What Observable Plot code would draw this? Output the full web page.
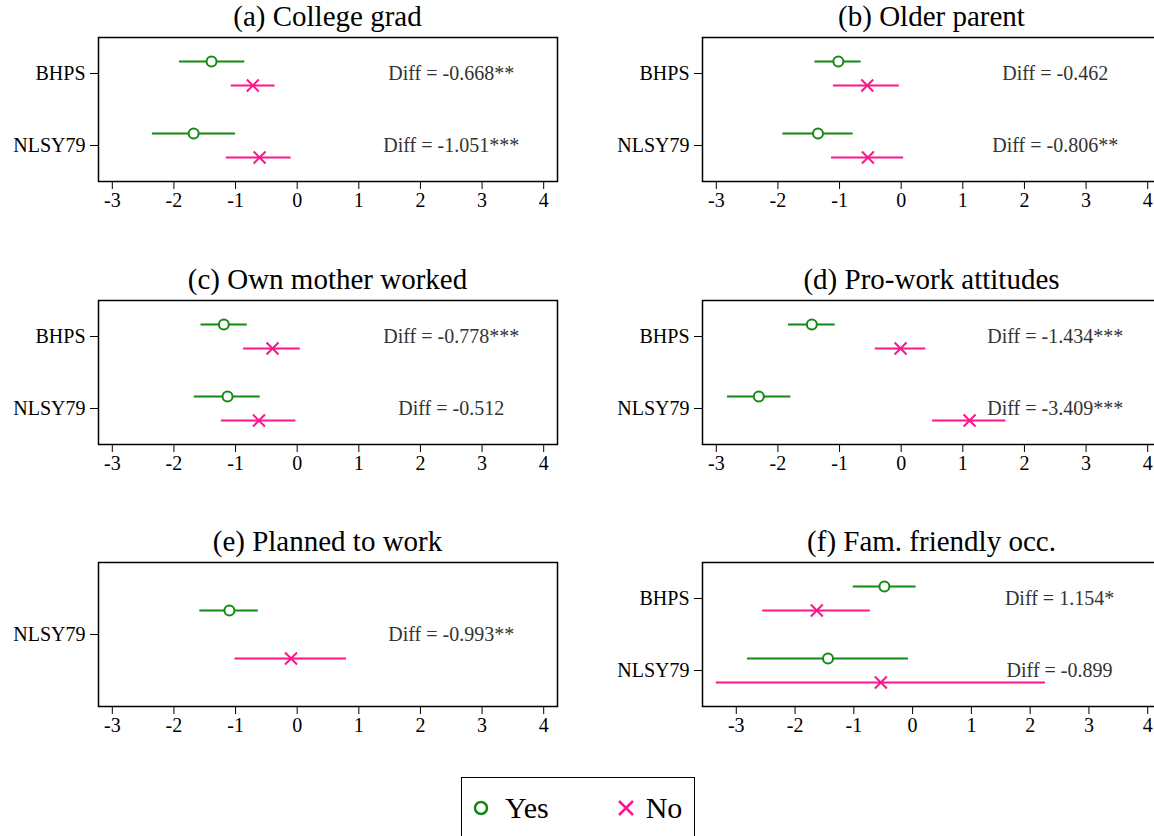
<!DOCTYPE html>
<html>
<head>
<meta charset="utf-8">
<script src="https://cdn.jsdelivr.net/npm/d3@7"></script>
<script src="https://cdn.jsdelivr.net/npm/@observablehq/plot@0.6"></script>
<style>
html, body { margin: 0; padding: 0; background: #fff; overflow: hidden; }
#chart { position: relative; width: 1154px; height: 836px; overflow: hidden;
  font-family: "Liberation Serif", "Times New Roman", serif; background: #fff; }
.panel { position: absolute; }
.panel, .panel g, .panel text { font-family: "Liberation Serif", "Times New Roman", serif !important; }
.title { position: absolute; text-align: center; font-size: 29px; line-height: 29px; color: #000; white-space: nowrap; }
#legend { position: absolute; box-sizing: border-box; border: 1.5px solid #000; background: #fff;
  display: flex; align-items: center; font-size: 30px; color: #000; }
#legend .item { display: flex; align-items: center; }
</style>
</head>
<body>
<div id="chart"></div>
<script>
// ---------------- data ----------------
const panelTitles = ["(a) College grad", "(b) Older parent", "(c) Own mother worked",
  "(d) Pro-work attitudes", "(e) Planned to work", "(f) Fam. friendly occ."];
const panelSamples = [["BHPS", "NLSY79"], ["BHPS", "NLSY79"], ["BHPS", "NLSY79"],
  ["BHPS", "NLSY79"], ["NLSY79"], ["BHPS", "NLSY79"]];
const yesEst = [[-1.39, -1.68], [-1.02, -1.35], [-1.19, -1.13], [-1.45, -2.31], [-1.10], [-0.48, -1.44]];
const yesLo  = [[-1.91, -2.35], [-1.40, -1.92], [-1.56, -1.67], [-1.83, -2.82], [-1.58], [-1.01, -2.81]];
const yesHi  = [[-0.85, -1.00], [-0.65, -0.78], [-0.81, -0.60], [-1.07, -1.79], [-0.63], [0.06, -0.07]];
const noEst  = [[-0.72, -0.61], [-0.55, -0.54], [-0.40, -0.62], [-0.01, 1.11], [-0.10], [-1.63, -0.54]];
const noLo   = [[-1.07, -1.15], [-1.10, -1.13], [-0.87, -1.23], [-0.42, 0.51], [-1.01], [-2.55, -3.34]];
const noHi   = [[-0.36, -0.10], [-0.03, 0.04], [0.05, -0.02], [0.40, 1.70], [0.80], [-0.72, 2.26]];
const diffLabels = [["Diff = -0.668**", "Diff = -1.051***"], ["Diff = -0.462", "Diff = -0.806**"],
  ["Diff = -0.778***", "Diff = -0.512"], ["Diff = -1.434***", "Diff = -3.409***"],
  ["Diff = -0.993**"], ["Diff = 1.154*", "Diff = -0.899"]];
const xTicks = [-3, -2, -1, 0, 1, 2, 3, 4];
const legendLabels = ["Yes", "No"];

// ---------------- style / layout ----------------
const GREEN = "#138a13";
const PINK = "#ff148c";
const FONT = "'Liberation Serif', 'Times New Roman', serif";
const FRAME_W = 459, FRAME_H = 144;
const ML = 98, MR = 24, MT = 10, MB = 40;
const colLeft = [0, 604];
const frameTops = [37, 300, 562];
const OFF = 0.167;        // vertical offset of Yes / No within a sample row
const diffLabelX = 2.5;   // where the Diff label is centred (data units)
const padFrac = 0.032;

const chart = document.getElementById("chart");

panelTitles.forEach((title, p) => {
  const col = p % 2, row = Math.floor(p / 2);
  const samples = panelSamples[p];
  const n = samples.length;
  const yesRows = samples.map((s, i) => ({pos: i + 1 - OFF, est: yesEst[p][i], lo: yesLo[p][i], hi: yesHi[p][i]}));
  const noRows = samples.map((s, i) => ({pos: i + 1 + OFF, est: noEst[p][i], lo: noLo[p][i], hi: noHi[p][i]}));
  const diffRows = samples.map((s, i) => ({pos: i + 1, label: diffLabels[p][i]}));
  const all = yesRows.concat(noRows);
  const lo = Math.min(d3.min(xTicks), d3.min(all, d => d.lo));
  const hi = Math.max(d3.max(xTicks), d3.max(all, d => d.hi));
  const pad = padFrac * (hi - lo);

  const plot = Plot.plot({
    width: ML + FRAME_W + MR,
    height: MT + FRAME_H + MB,
    marginLeft: ML, marginRight: MR, marginTop: MT, marginBottom: MB,
    style: {fontFamily: FONT, fontSize: "20px", color: "#000", background: "transparent", overflow: "visible"},
    x: {domain: [lo - pad, hi + pad], ticks: xTicks, tickFormat: d => String(d), tickSize: 8, tickPadding: 3, label: null},
    y: {domain: [0.5, n + 0.5], reverse: true, ticks: d3.range(1, n + 1), tickFormat: d => samples[d - 1],
        tickSize: 8, tickPadding: 5, label: null},
    marks: [
      Plot.frame({stroke: "#000", strokeWidth: 1.5}),
      Plot.ruleY(yesRows, {y: "pos", x1: "lo", x2: "hi", stroke: GREEN, strokeWidth: 2}),
      Plot.ruleY(noRows, {y: "pos", x1: "lo", x2: "hi", stroke: PINK, strokeWidth: 2}),
      Plot.dot(yesRows, {x: "est", y: "pos", r: 5, symbol: "circle", stroke: GREEN, fill: "#fff", strokeWidth: 2}),
      Plot.dot(noRows, {x: "est", y: "pos", r: 5.5, symbol: "times", stroke: PINK, strokeWidth: 2}),
      Plot.text(diffRows, {x: () => diffLabelX, y: "pos", text: "label", fontSize: 20, fill: "#333",
        textAnchor: "middle"})
    ]
  });
  plot.classList.add("panel");
  plot.style.left = colLeft[col] + "px";
  plot.style.top = (frameTops[row] - MT) + "px";
  chart.appendChild(plot);

  const t = document.createElement("div");
  t.className = "title";
  t.textContent = title;
  t.style.left = (colLeft[col] + ML) + "px";
  t.style.width = FRAME_W + "px";
  t.style.top = (frameTops[row] - 35) + "px";
  chart.appendChild(t);
});

// ---------------- legend ----------------
const legend = document.createElement("div");
legend.id = "legend";
legend.style.left = "461px";
legend.style.top = "777px";
legend.style.width = "234px";
legend.style.height = "62px";
legend.style.paddingLeft = "9px";
const symbols = [
  `<svg width="20" height="20" viewBox="-10 -10 20 20"><circle r="6" fill="#fff" stroke="${GREEN}" stroke-width="2.5"/></svg>`,
  `<svg width="20" height="20" viewBox="-10 -10 20 20"><path d="M-7,-7L7,7M-7,7L7,-7" stroke="${PINK}" stroke-width="2.5"/></svg>`
];
legendLabels.forEach((lab, i) => {
  const it = document.createElement("div");
  it.className = "item";
  it.style.marginRight = i === 0 ? "67px" : "0";
  it.innerHTML = symbols[i] + `<span style="margin-left:${i === 0 ? 14 : 10}px">${lab}</span>`;
  legend.appendChild(it);
});
chart.appendChild(legend);
</script>
</body>
</html>
